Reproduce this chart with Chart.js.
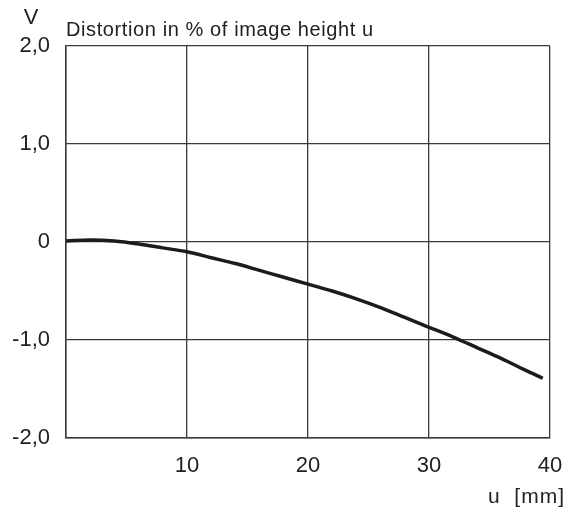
<!DOCTYPE html>
<html>
<head>
<meta charset="utf-8">
<script src="https://cdn.jsdelivr.net/npm/chart.js@4"></script>
<style>
  html, body { margin: 0; padding: 0; background: #fff; }
  #wrap { width: 566px; height: 511px; }
</style>
</head>
<body>
<div id="wrap"><canvas id="grafico" width="566" height="511"></canvas></div>
<script>
// image height u in mm
const alturaU = [0, 2, 4, 6, 8, 10, 12, 14, 16, 18, 20, 22, 24, 26, 28, 30, 32, 34, 36, 38, 39.4];
// distortion V in %
const distorcao = [0.01, 0.02, 0.01, -0.02, -0.06, -0.10, -0.16, -0.22, -0.29, -0.36, -0.43, -0.50, -0.58, -0.67, -0.77, -0.87, -0.97, -1.08, -1.19, -1.31, -1.39];

const xTicks = ['', '10', '20', '30', '40'];
const yTicks = { '2': '2,0', '1': '1,0', '0': '0', '-1': '-1,0', '-2': '-2,0' };

const fonte = '"Liberation Sans", Arial, sans-serif';
const corGrade = '#3a3a3a';

const textos = {
  id: 'textos',
  afterDraw(chart) {
    const ctx = chart.ctx;
    ctx.save();
    ctx.fillStyle = '#222';
    ctx.textBaseline = 'middle';
    ctx.font = '22px ' + fonte;
    ctx.textAlign = 'center';
    ctx.fillText('V', 31, 18);
    ctx.font = '20px ' + fonte;
    ctx.letterSpacing = '0.6px';
    ctx.textAlign = 'left';
    ctx.fillText('Distortion in % of image height u', 66, 30);
    ctx.font = '21px ' + fonte;
    ctx.letterSpacing = '1px';
    ctx.textAlign = 'right';
    ctx.fillText('u  [mm]', 565, 497);
    ctx.restore();
  }
};

new Chart(document.getElementById('grafico'), {
  type: 'line',
  data: {
    datasets: [{
      data: alturaU.map((u, i) => ({ x: u, y: distorcao[i] })),
      borderColor: '#1c1c1c',
      borderWidth: 3.5,
      pointRadius: 0,
      cubicInterpolationMode: 'monotone',
      fill: false
    }]
  },
  options: {
    responsive: false,
    animation: false,
    layout: { padding: { left: 0, right: 16, top: 46, bottom: 0 } },
    scales: {
      x: {
        type: 'linear',
        min: 0,
        max: 40,
        afterFit(scale) {
          scale.height = 73;
          scale.paddingRight = 0;
          scale.paddingLeft = 0;
        },
        grid: { color: corGrade, lineWidth: 1.3, drawTicks: false },
        border: { color: corGrade, width: 1.5 },
        ticks: {
          stepSize: 10,
          padding: 15,
          color: '#222',
          font: { family: fonte, size: 22 },
          callback: (v) => xTicks[v / 10]
        }
      },
      y: {
        min: -2,
        max: 2,
        afterFit(scale) {
          scale.width = 66;
          scale.paddingTop = 0;
          scale.paddingBottom = 0;
        },
        grid: { color: corGrade, lineWidth: 1.3, drawTicks: false },
        border: { color: corGrade, width: 1.5 },
        ticks: {
          stepSize: 1,
          padding: 16,
          color: '#222',
          font: { family: fonte, size: 22 },
          callback: (v) => yTicks[String(v)]
        }
      }
    },
    plugins: {
      legend: { display: false },
      tooltip: { enabled: false }
    }
  },
  plugins: [textos]
});
</script>
</body>
</html>
